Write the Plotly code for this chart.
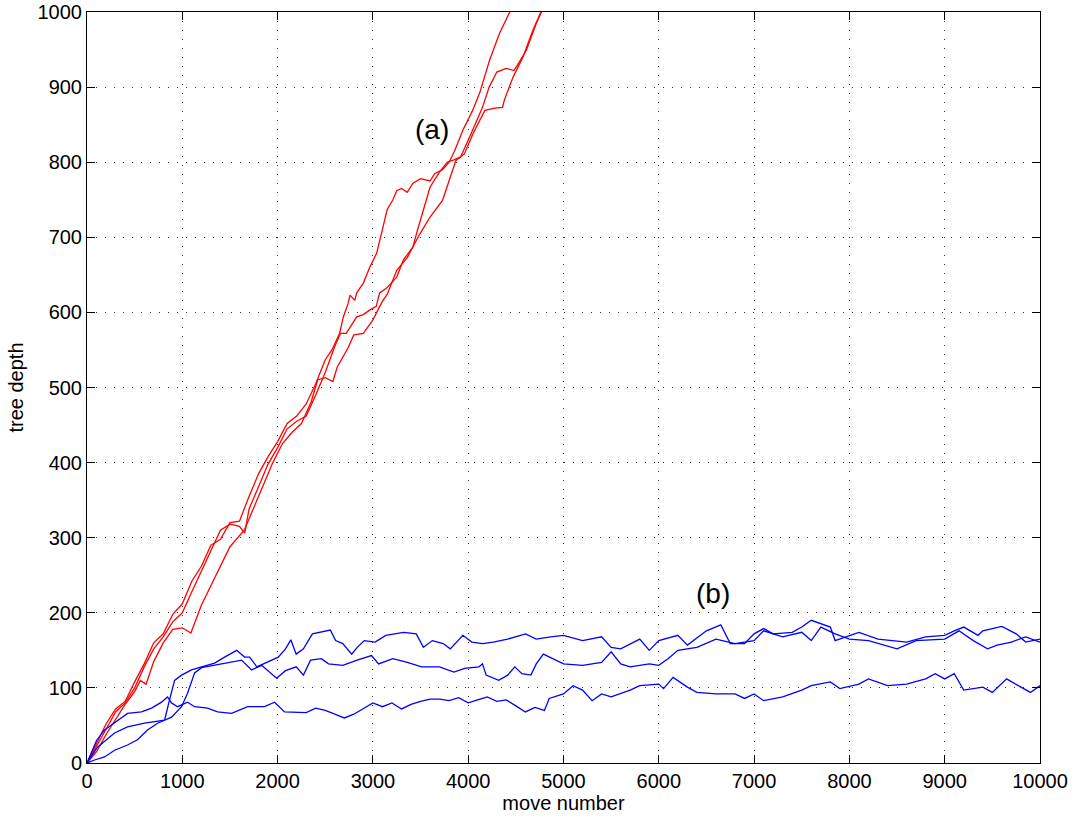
import plotly.graph_objects as go

# ---- data ----
red_a_moves = [0,100,200,300,400,500,600,700,800,900,1000,1100,1200,1300,1400,1500,1600,1700,1800,1900,
               2000,2100,2200,2300,2400,2500,2570,2650,2690,2740,2760,2810,2830,2900,2970,3040,3100,3150,3210,3250,
               3300,3360,3420,3500,3600,3650,3730,3800,3860,3945,4050,4120,4225,4330,4436,4480]
red_a_depth = [0,25,52,72,82,108,132,160,172,198,212,242,262,290,298,320,322,355,385,408,
               428,452,462,478,505,537,550,572,594,612,623,616,626,639,661,679,710,737,750,762,
               765,760,772,778,775,785,790,800,816,843,870,892,936,972,1000,1015]

red_b_moves = [0,100,200,300,400,500,600,700,800,900,1000,1100,1200,1300,1400,1500,1600,1655,1700,1800,
               1900,2000,2100,2200,2300,2400,2500,2600,2660,2720,2790,2830,2900,2965,3035,3070,3140,3250,3320,3420,
               3460,3520,3600,3700,3780,3850,3920,4030,4150,4220,4300,4400,4480,4505,4610,4715,4770,4810]
red_b_depth = [0,22,45,68,80,100,128,152,168,188,200,228,255,282,310,318,315,306,338,368,
               398,420,445,455,462,490,520,555,572,572,585,594,597,603,608,626,632,647,670,687,
               706,732,767,787,800,803,807,838,873,900,920,925,922,927,949,985,1000,1012]

red_c_moves = [0,100,200,300,400,500,560,620,700,800,900,1000,1090,1200,1340,1500,1650,1750,1850,1950,
               2050,2150,2250,2350,2420,2500,2580,2625,2740,2800,2900,3000,3100,3150,3250,3360,3490,3600,3730,3790,
               3870,3960,4050,4175,4280,4360,4380,4470,4575,4680,4750,4777,4820]
red_c_depth = [0,15,38,58,78,95,110,105,135,160,178,180,173,210,246,288,310,340,372,400,
               425,440,452,480,510,513,508,527,553,570,572,590,615,624,656,673,704,727,749,771,
               802,811,838,869,872,873,883,913,940,976,998,1004,1012]

blue_u_moves = [0,110,289,425,604,740,814,866,919,992,1097,1202,1339,1444,1570,1654,1707,1782,1857,2007,
                2083,2139,2195,2271,2365,2459,2553,2609,2684,2778,2835,2910,3023,3135,3210,3323,3455,3530,3624,3737,
                3812,3944,4038,4150,4263,4414,4602,4714,4865,5000,5200,5400,5500,5600,5800,5900,6000,6200,6300,
                6500,6650,6750,6900,7000,7100,7200,7400,7500,7600,7700,7800,7850,8000,8100,8300,8600,8800,9000,9100,
                9200,9350,9400,9600,9750,9850,10000]
blue_u_depth = [0,21,40,48,53,55,57,84,110,117,124,128,133,141,150,141,141,128,132,141,
                152,164,145,152,172,174,177,163,159,145,154,163,161,170,172,174,172,154,163,159,
                152,170,161,159,161,165,172,165,168,170,163,168,154,152,165,150,163,170,157,
                176,184,159,159,172,179,172,174,181,190,185,181,163,170,174,165,161,168,170,176,
                181,170,176,182,172,161,165]

blue_m_moves = [0,79,184,289,425,530,635,740,887,992,1055,1129,1202,1339,1475,1622,1727,1832,1990,2083,
                2195,2271,2346,2459,2534,2684,2835,2985,3060,3210,3361,3511,3699,3850,3962,4113,4150,4188,4320,4414,
                4489,4564,4658,4714,4789,4883,5000,5200,5400,5500,5600,5700,5900,6000,6100,6200,6400,6600,6800,7000,
                7100,7300,7500,7600,7700,7850,8000,8200,8500,8700,9000,9150,9300,9450,9550,9700,9850,10000]
blue_m_depth = [0,4,8,17,24,31,44,53,61,75,93,120,127,130,133,137,124,130,113,123,
                128,117,137,139,132,130,137,143,132,139,134,128,128,121,126,128,132,117,110,117,
                128,119,117,132,145,139,132,130,134,148,132,128,132,130,139,150,154,165,159,163,
                176,168,174,163,181,172,165,163,152,163,165,176,163,152,157,161,168,161]

blue_l_moves = [0,100,184,320,425,572,677,782,845,887,950,1055,1129,1265,1370,1517,1685,1863,1968,2073,
                2158,2300,2400,2500,2600,2700,2800,2900,3000,3100,3200,3300,3400,3500,3600,3700,3800,3900,4000,4100,
                4200,4300,4400,4500,4600,4700,4800,4850,5000,5100,5200,5300,5400,5500,5700,5800,6000,6050,6150,6300,
                6400,6600,6800,6900,7000,7100,7300,7500,7600,7800,7900,8100,8200,8400,8600,8800,8900,9000,9100,9200,
                9400,9500,9650,9800,9900,10000]
blue_l_depth = [0,30,44,57,66,68,73,81,88,80,75,81,75,73,68,66,75,75,81,68,
                68,67,73,70,65,60,65,72,80,75,80,72,78,82,85,85,83,87,80,84,
                88,82,84,76,68,74,70,86,92,103,97,83,92,88,97,103,105,99,114,101,
                94,92,92,86,92,83,88,97,103,108,99,105,112,103,105,112,119,112,119,97,
                101,94,112,101,94,103]

x_ticks = [0,1000,2000,3000,4000,5000,6000,7000,8000,9000,10000]
y_ticks = [0,100,200,300,400,500,600,700,800,900,1000]

labels = [("(a)", 3620, 843), ("(b)", 6570, 226)]

series = [
    (red_a_moves, red_a_depth, "#ff0000"),
    (red_b_moves, red_b_depth, "#ff0000"),
    (red_c_moves, red_c_depth, "#ff0000"),
    (blue_u_moves, blue_u_depth, "#0000ff"),
    (blue_m_moves, blue_m_depth, "#0000ff"),
    (blue_l_moves, blue_l_depth, "#0000ff"),
]

FONT = "Liberation Sans, Arial, Helvetica"

fig = go.Figure()
for mv, dp, col in series:
    assert len(mv) == len(dp)
    fig.add_trace(go.Scatter(x=mv, y=dp, mode="lines",
                             line=dict(color=col, width=1.3),
                             showlegend=False, hoverinfo="skip"))

for txt, xv, yv in labels:
    fig.add_annotation(x=xv, y=yv, text=txt, showarrow=False,
                       font=dict(family=FONT, size=28, color="black"))

axis_common = dict(
    showline=True, linecolor="black", linewidth=1, mirror="allticks",
    ticks="inside", ticklen=8, tickcolor="black", tickwidth=1,
    showgrid=True, gridcolor="#333333", gridwidth=1, griddash="1px,8px",
    zeroline=False, automargin=False, ticklabeloverflow="allow",
    tickfont=dict(family=FONT, size=20, color="black"),
)

fig.update_layout(
    width=1078, height=825,
    margin=dict(l=87, r=38, t=12, b=62),
    paper_bgcolor="white", plot_bgcolor="white",
    hovermode=False,
    xaxis=dict(range=[0, 10000], tickvals=x_ticks, ticktext=[str(v) for v in x_ticks],
               title=dict(text="move number", standoff=2,
                          font=dict(family=FONT, size=20, color="black")),
               **axis_common),
    yaxis=dict(range=[0, 1000], tickvals=y_ticks, ticktext=[str(v) for v in y_ticks],
               title=dict(text="tree depth", standoff=8,
                          font=dict(family=FONT, size=20, color="black")),
               **axis_common),
)

fig.write_html("out.html",
               config={"displayModeBar": False, "staticPlot": True},
               post_script="document.body.style.margin='0';document.body.style.overflow='hidden';")
